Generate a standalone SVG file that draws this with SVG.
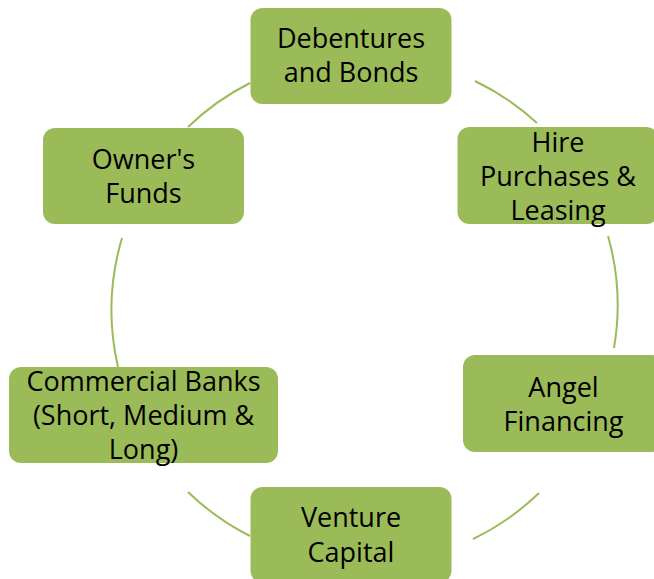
<svg xmlns="http://www.w3.org/2000/svg" width="654" height="579" viewBox="0 0 654 579">
<style>
.box{fill:#9BBB59;}
.lbl{font-family:"Open Sans","Noto Sans",sans-serif;font-size:27px;fill:#000;text-anchor:middle;}
.arc{fill:none;stroke:#9BBB59;stroke-width:2;}
</style>
<rect width="654" height="579" fill="#fff"/>
<g id="connectors">
<path class="arc" d="M475,81 A253,253 0 0 1 537,123"/>
<path class="arc" d="M608,236 A253,253 0 0 1 614,348"/>
<path class="arc" d="M539,493 A253,253 0 0 1 473,539"/>
<path class="arc" d="M250,536 A253,253 0 0 1 188,492"/>
<path class="arc" d="M118,367 A253,253 0 0 1 122,238"/>
<path class="arc" d="M188,127 A253,253 0 0 1 250,83"/>
</g>
<g id="debentures">
<rect class="box" x="250.5" y="8" width="201" height="96" rx="12"/>
<text class="lbl" x="351" y="48">Debentures</text>
<text class="lbl" x="351" y="82">and Bonds</text>
</g>
<g id="hire">
<rect class="box" x="457.5" y="127" width="201" height="97" rx="12"/>
<text class="lbl" x="558" y="152">Hire</text>
<text class="lbl" x="558" y="186">Purchases &amp;</text>
<text class="lbl" x="558" y="220">Leasing</text>
</g>
<g id="angel">
<rect class="box" x="463" y="355" width="201" height="97" rx="12"/>
<text class="lbl" x="563.5" y="397">Angel</text>
<text class="lbl" x="563.5" y="431">Financing</text>
</g>
<g id="venture">
<rect class="box" x="250.5" y="487" width="201" height="96" rx="12"/>
<text class="lbl" x="351" y="527">Venture</text>
<text class="lbl" x="351" y="562">Capital</text>
</g>
<g id="commercial">
<rect class="box" x="9" y="367" width="269" height="96" rx="12"/>
<text class="lbl" x="143.5" y="391">Commercial Banks</text>
<text class="lbl" x="143.5" y="425">(Short, Medium &amp;</text>
<text class="lbl" x="143.5" y="459">Long)</text>
</g>
<g id="owners">
<rect class="box" x="43" y="128" width="201" height="96" rx="12"/>
<text class="lbl" x="143.5" y="169">Owner's</text>
<text class="lbl" x="143.5" y="203">Funds</text>
</g>
</svg>
